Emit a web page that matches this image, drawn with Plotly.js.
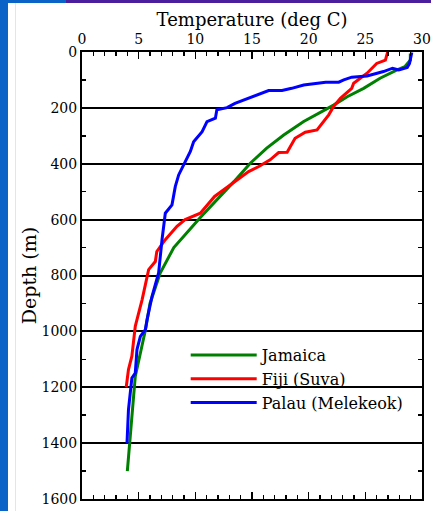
<!DOCTYPE html>
<html>
<head>
<meta charset="utf-8">
<script src="https://cdn.plot.ly/plotly-3.0.1.min.js"></script>
<style>
  html, body { margin: 0; padding: 0; background: #ffffff; }
  #wrap { position: relative; width: 431px; height: 511px; overflow: hidden; }
  #leftbar { position: absolute; left: 0; top: 0; width: 8px; height: 511px; background: #0a64c8; }
  #leftline { position: absolute; left: 15px; top: 0; width: 1px; height: 511px; background: #dbe7f4; }
  #topblue { position: absolute; left: 0; top: 0; width: 66px; height: 3px; background: #0a64c8; }
  #toppurple { position: absolute; left: 66px; top: 0; width: 365px; height: 3px; background: #4b1e9e; }
  #chart { position: absolute; left: 0; top: 0; width: 431px; height: 511px; }
</style>
</head>
<body>
<div id="wrap">
  <div id="leftbar"></div>
  <div id="leftline"></div>
  <div id="topblue"></div>
  <div id="toppurple"></div>
  <div id="chart"></div>
</div>
<script>
// Series names
const seriesNames = ["Jamaica", "Fiji (Suva)", "Palau (Melekeok)"];

// Jamaica: temperature (deg C) and depth (m)
const jamaicaT = [28.97, 28.97, 28.5, 27.8, 26.3, 24.85, 23.4, 22.2, 19.56, 17.8, 16.3, 14.85, 13.4, 11.9, 10.44, 8.1, 6.9, 6.0, 5.6, 4.7, 4.26, 4.0];
const jamaicaD = [5, 29, 52, 64, 94, 130, 160, 190, 249, 297, 344, 398, 464, 529, 592, 700, 791, 900, 994, 1161, 1362, 1500];

// Fiji (Suva)
const fijiT = [26.97, 26.77, 26.0, 25.15, 23.97, 23.8, 22.8, 22.2, 21.77, 20.74, 19.7, 18.8, 18.1, 17.35, 16.6, 15.6, 14.7, 14.1, 13.24, 11.7, 10.44, 9.1, 8.38, 7.35, 6.6, 6.47, 5.88, 5.59, 5.3, 4.85, 4.7, 4.4, 4.1, 3.9];
const fijiD = [0, 29, 41, 76, 112, 130, 166, 195, 225, 279, 287, 309, 359, 360, 386, 410, 428, 446, 470, 517, 577, 600, 624, 672, 714, 750, 779, 839, 887, 958, 982, 1089, 1137, 1200];

// Palau (Melekeok)
const palauT = [29.1, 28.9, 28.7, 27.95, 27.4, 26.6, 25.15, 23.8, 23.1, 22.65, 21.5, 20.7, 19.56, 18.5, 17.65, 16.47, 15.45, 14.4, 13.5, 12.8, 11.9, 11.77, 11.03, 10.6, 9.85, 9.56, 8.97, 8.53, 8.23, 7.94, 7.35, 7.2, 7.06, 6.76, 6.18, 5.74, 5.59, 5.15, 4.85, 4.7, 4.4, 4.1, 3.97];
const palauD = [2, 41, 55, 64, 58, 70, 86, 90, 100, 108, 108, 112, 118, 130, 138, 138, 154, 168, 184, 199, 207, 237, 249, 285, 321, 356, 404, 440, 482, 547, 577, 624, 672, 791, 875, 958, 994, 1018, 1065, 1149, 1167, 1280, 1400];

// Axis ticks
const xTickVals = [0, 5, 10, 15, 20, 25, 30];
const yTickVals = [0, 200, 400, 600, 800, 1000, 1200, 1400, 1600];

const serif = "'DejaVu Serif', 'Liberation Serif', serif";

const traces = [
  { x: jamaicaT, y: jamaicaD, name: seriesNames[0], mode: "lines", line: { color: "#008000", width: 3 } },
  { x: fijiT, y: fijiD, name: seriesNames[1], mode: "lines", line: { color: "#ff0000", width: 3 } },
  { x: palauT, y: palauD, name: seriesNames[2], mode: "lines", line: { color: "#0000ff", width: 3 } }
];

const layout = {
  width: 431,
  height: 511,
  margin: { l: 82, r: 9, t: 52, b: 12 },
  paper_bgcolor: "rgba(0,0,0,0)",
  plot_bgcolor: "#ffffff",
  font: { family: serif, color: "#000000", size: 14 },
  showlegend: true,
  legend: {
    x: 0.305, y: 0.36, xanchor: "left", yanchor: "top",
    bgcolor: "rgba(0,0,0,0)", borderwidth: 0,
    font: { family: serif, size: 16, color: "#000" },
    itemwidth: 66,
    tracegroupgap: 0
  },
  xaxis: {
    side: "top",
    range: [0, 30],
    tickvals: xTickVals,
    ticks: "inside",
    ticklen: 7,
    tickwidth: 1.5,
    tickcolor: "#000",
    showline: true,
    linecolor: "#000",
    linewidth: 2,
    mirror: "ticks",
    showgrid: false,
    zeroline: false,
    tickfont: { family: serif, size: 14 },
    minor: { dtick: 1, ticks: "inside", ticklen: 4, tickwidth: 1.5, tickcolor: "#000", showgrid: false },
    title: { text: "Temperature (deg C)", font: { family: serif, size: 18 }, standoff: 0 }
  },
  yaxis: {
    range: [1600, 0],
    tickvals: yTickVals,
    ticks: "inside",
    ticklen: 5,
    tickwidth: 1.5,
    tickcolor: "#000",
    showline: true,
    linecolor: "#000",
    linewidth: 2,
    mirror: "ticks",
    showgrid: true,
    gridcolor: "#000",
    gridwidth: 2,
    zeroline: false,
    tickfont: { family: serif, size: 14 },
    minor: { dtick: 100, ticks: "inside", ticklen: 4, tickwidth: 1.5, tickcolor: "#000", showgrid: false },
    title: { text: "Depth (m)", font: { family: serif, size: 19 }, standoff: 0 }
  }
};

Plotly.newPlot("chart", traces, layout, { displayModeBar: false, staticPlot: true });
</script>
</body>
</html>
